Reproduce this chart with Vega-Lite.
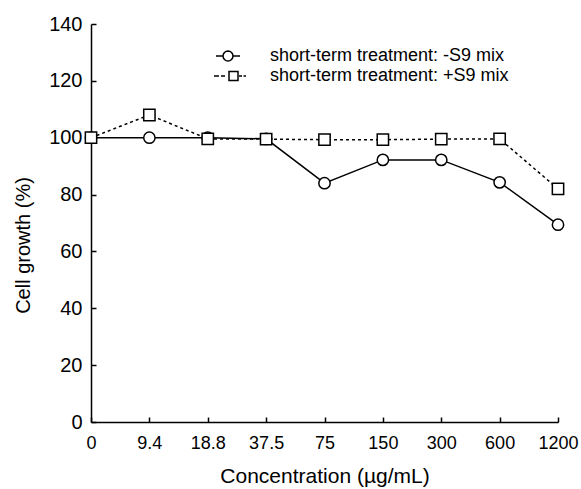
{
  "$schema": "https://vega.github.io/schema/vega-lite/v6.json",
  "autosize": "none",
  "width": 467,
  "height": 398,
  "padding": {"left": 91, "top": 24, "right": 23, "bottom": 67},
  "background": "white",
  "config": {
    "font": "Liberation Sans",
    "view": {"stroke": null},
    "axis": {"grid": false, "domainColor": "black", "domainWidth": 1.5, "tickColor": "black", "tickWidth": 1.5, "labelColor": "black", "titleColor": "black", "titleFontWeight": "normal"}
  },
  "data": {
    "values": [
      {"conc": "0", "series": "short-term treatment: -S9 mix", "growth": 100},
      {"conc": "9.4", "series": "short-term treatment: -S9 mix", "growth": 100},
      {"conc": "18.8", "series": "short-term treatment: -S9 mix", "growth": 100},
      {"conc": "37.5", "series": "short-term treatment: -S9 mix", "growth": 99.6},
      {"conc": "75", "series": "short-term treatment: -S9 mix", "growth": 84},
      {"conc": "150", "series": "short-term treatment: -S9 mix", "growth": 92.2},
      {"conc": "300", "series": "short-term treatment: -S9 mix", "growth": 92.2},
      {"conc": "600", "series": "short-term treatment: -S9 mix", "growth": 84.3},
      {"conc": "1200", "series": "short-term treatment: -S9 mix", "growth": 69.4},
      {"conc": "0", "series": "short-term treatment: +S9 mix", "growth": 100},
      {"conc": "9.4", "series": "short-term treatment: +S9 mix", "growth": 108},
      {"conc": "18.8", "series": "short-term treatment: +S9 mix", "growth": 99.6},
      {"conc": "37.5", "series": "short-term treatment: +S9 mix", "growth": 99.5},
      {"conc": "75", "series": "short-term treatment: +S9 mix", "growth": 99.3},
      {"conc": "150", "series": "short-term treatment: +S9 mix", "growth": 99.3},
      {"conc": "300", "series": "short-term treatment: +S9 mix", "growth": 99.5},
      {"conc": "600", "series": "short-term treatment: +S9 mix", "growth": 99.6},
      {"conc": "1200", "series": "short-term treatment: +S9 mix", "growth": 82}
    ]
  },
  "encoding": {
    "x": {
      "field": "conc", "type": "ordinal",
      "sort": ["0", "9.4", "18.8", "37.5", "75", "150", "300", "600", "1200"],
      "scale": {"type": "point", "padding": 0},
      "axis": {"title": "Concentration (µg/mL)", "titleFontSize": 21, "titlePadding": 13, "labelFontSize": 18, "labelAngle": 0, "tickSize": -5, "labelPadding": 17}
    },
    "y": {
      "field": "growth", "type": "quantitative",
      "scale": {"domain": [0, 140], "nice": false},
      "axis": {"title": "Cell growth (%)", "titleFontSize": 20, "titleX": -58, "titleY": 221, "labelFontSize": 20, "values": [0, 20, 40, 60, 80, 100, 120, 140], "tickSize": -5, "labelPadding": 14}
    }
  },
  "layer": [
    {
      "transform": [{"filter": "datum.series === 'short-term treatment: -S9 mix'"}],
      "mark": {"type": "line", "color": "black", "strokeWidth": 1.5},
      "encoding": {
        "color": {
          "field": "series", "type": "nominal",
          "scale": {"domain": ["short-term treatment: -S9 mix", "short-term treatment: +S9 mix"], "range": ["black", "black"]},
          "legend": {
            "title": null,
            "orient": "none",
            "values": ["short-term treatment: -S9 mix"],
            "legendX": 128,
            "legendY": 23,
            "padding": 0,
            "symbolSize": 256,
            "symbolStrokeWidth": 1.5,
            "symbolStrokeColor": "black",
            "symbolType": "M-1.5,0L-0.625,0M0.625,0L1.5,0M0.625,0L0.578,0.239L0.442,0.442L0.239,0.578L0,0.625L-0.239,0.578L-0.442,0.442L-0.578,0.239L-0.625,0L-0.578,-0.239L-0.442,-0.442L-0.239,-0.578L0,-0.625L0.239,-0.578L0.442,-0.442L0.578,-0.239Z",
            "labelFontSize": 18,
            "labelColor": "black",
            "labelOffset": 33,
            "labelLimit": 400
          }
        },
        "opacity": {
          "field": "series", "type": "nominal",
          "scale": {"domain": ["short-term treatment: +S9 mix", "short-term treatment: -S9 mix"], "range": [1, 1]},
          "legend": {
            "title": null,
            "orient": "none",
            "values": ["short-term treatment: +S9 mix"],
            "legendX": 128,
            "legendY": 43,
            "padding": 0,
            "symbolSize": 256,
            "symbolStrokeWidth": 1.5,
            "symbolStrokeColor": "black",
            "symbolType": "M-1.75,0L-1.125,0M-0.875,0L-0.375,0M1.375,0L1.75,0M1.94,0L2.25,0M0.125,-0.5625L1.25,-0.5625L1.25,0.5625L0.125,0.5625Z",
            "labelFontSize": 18,
            "labelColor": "black",
            "labelOffset": 33,
            "labelLimit": 400
          }
        }
      }
    },
    {
      "transform": [{"filter": "datum.series === 'short-term treatment: +S9 mix'"}],
      "mark": {"type": "line", "color": "black", "strokeWidth": 1.5, "strokeDash": [3, 3]},
      "encoding": {}
    },
    {
      "transform": [{"filter": "datum.series === 'short-term treatment: -S9 mix'"}],
      "mark": {"type": "point", "shape": "circle", "filled": false, "fill": "white", "fillOpacity": 1, "stroke": "black", "strokeWidth": 1.5, "opacity": 1, "size": 128},
      "encoding": {}
    },
    {
      "transform": [{"filter": "datum.series === 'short-term treatment: +S9 mix'"}],
      "mark": {"type": "point", "shape": "square", "filled": false, "fill": "white", "fillOpacity": 1, "stroke": "black", "strokeWidth": 1.5, "opacity": 1, "size": 128},
      "encoding": {}
    }
  ]
}
